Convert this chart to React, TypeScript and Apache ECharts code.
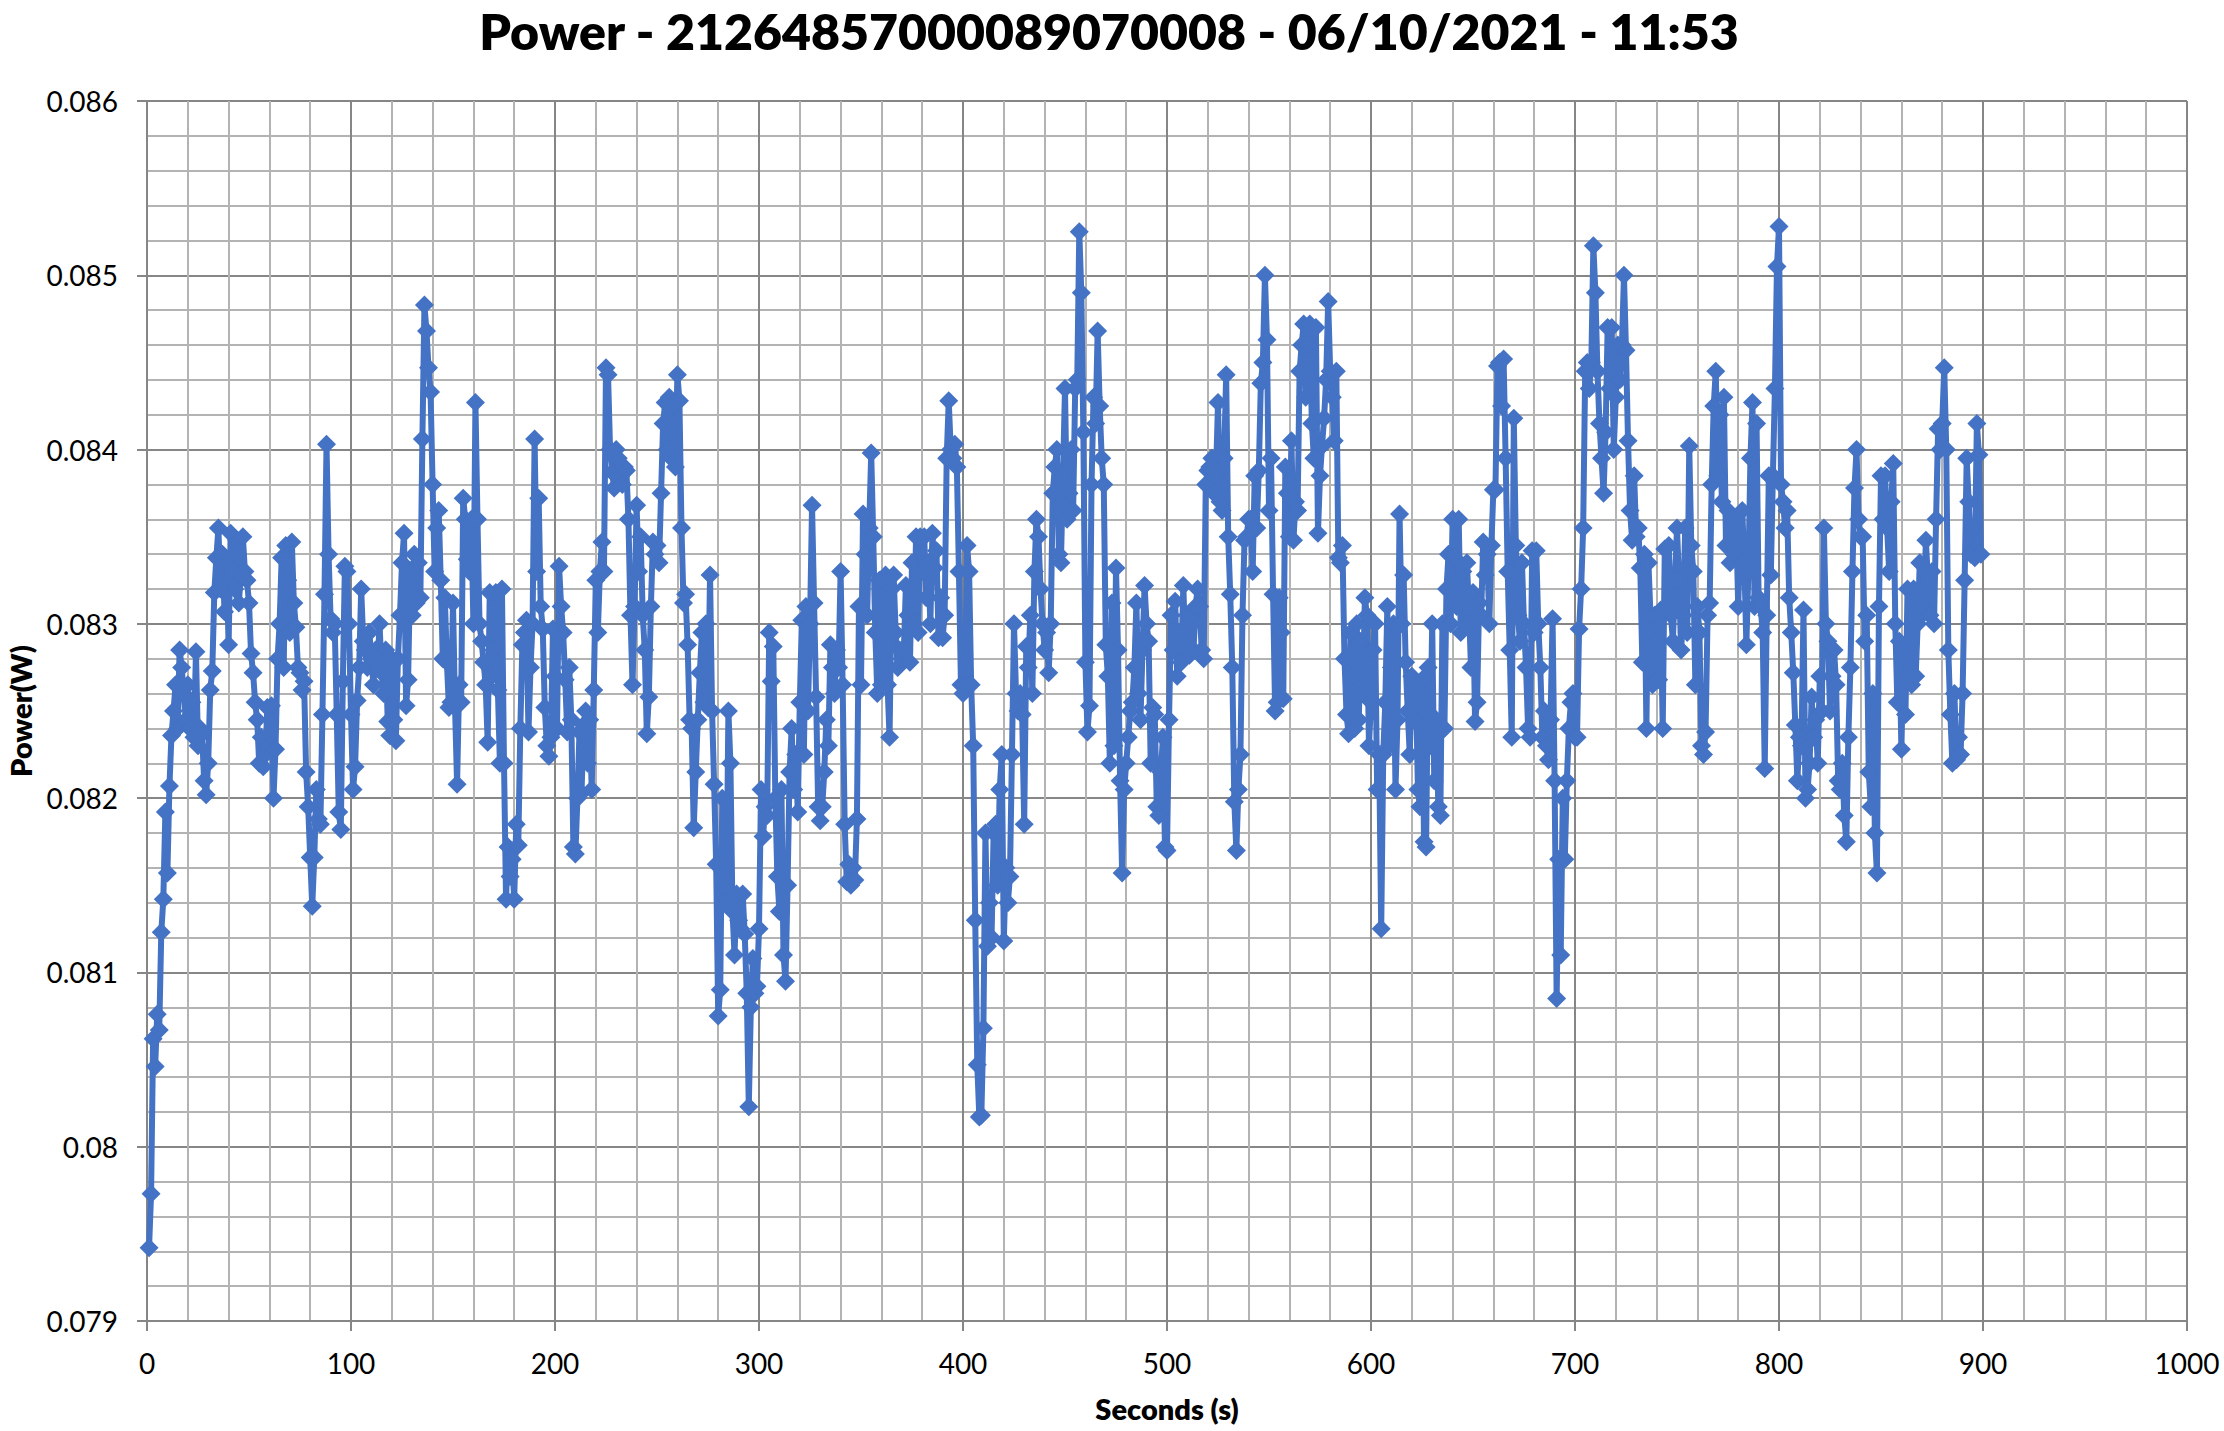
import React, { useEffect, useRef } from "react";
import * as echarts from "echarts";

const titleText = "Power - 21264857000089070008 - 06/10/2021 - 11:53";
const xAxisName = "Seconds (s)";
const yAxisName = "Power(W)";
const seriesName = "Power";

// Readings in milliwatts, one per second starting at t = 1 s.
const powerMilliwatts = [
79.42,79.73,80.62,80.46,80.76,80.67,81.23,81.42,81.92,81.57,
82.07,82.36,82.5,82.65,82.4,82.85,82.75,82.6,82.45,82.65,
82.4,82.55,82.35,82.84,82.3,82.4,82.37,82.1,82.02,82.2,
82.62,82.73,83.18,83.38,83.55,83.2,83.4,83.07,83.35,82.88,
83.52,83.3,83.2,83.48,83.12,83.28,83.5,83.3,83.25,83.12,
82.83,82.72,82.55,82.45,82.2,82.35,82.18,82.25,82.52,82.3,
82.53,82,82.28,82.8,83,83.38,82.75,83.45,83.25,82.95,
83.47,83.12,82.98,82.75,82.72,82.62,82.67,82.15,81.95,81.66,
81.38,81.66,82.05,81.88,81.85,82.48,83.17,84.03,83.4,83.03,
82.95,83,82.48,81.92,81.82,82.67,83.33,83.3,83,82.48,
82.05,82.18,82.56,82.75,83.2,82.9,82.85,82.75,82.95,82.8,
82.65,82.85,82.75,83,82.72,82.6,82.85,82.44,82.36,82.8,
82.45,82.33,82.8,83.05,83.35,83.52,82.53,82.68,83.3,83.05,
83.4,83.12,83.35,83.15,84.06,84.83,84.68,84.47,84.33,83.8,
83.3,83.55,83.65,83.25,82.8,83.15,82.78,82.52,82.55,83.12,
82.52,82.08,82.65,82.55,83.72,83.6,83.37,83.3,83.6,83,
84.27,83.6,83,82.9,82.78,82.65,82.32,83.18,82.7,82.85,
83.18,82.62,82.2,83.2,82.2,81.42,81.72,81.55,81.65,81.42,
81.85,81.73,82.4,82.88,82.95,83.02,82.38,82.75,83,84.06,
83.3,83.72,83.1,82.97,82.52,82.3,82.24,82.35,82.97,82.7,
82.4,83.33,83.1,82.95,82.68,82.38,82.75,82.45,81.72,81.68,
82,82.38,82.03,82.42,82.5,82.2,82.45,82.05,82.62,83.25,
82.95,83.3,83.47,83.3,84.47,84.43,84,83.87,83.78,84,
83.95,83.85,83.8,83.9,83.88,83.6,83.05,82.65,83.1,83.68,
83.3,83.5,83.05,82.85,82.37,82.58,83.1,83.47,83.4,83.45,
83.35,83.75,84.15,84.27,84,84.3,83.95,84.25,83.9,84.43,
84.28,83.55,83.12,83.17,82.88,82.45,82.4,81.83,82.15,82.45,
82.72,82.95,82.55,83,82.52,83.28,82.5,82.08,81.62,80.75,
80.9,82,81.5,81.4,82.5,82.2,81.35,81.1,81.45,81.3,
81.25,81.45,81.22,80.88,80.23,80.8,81.08,80.88,80.92,81.25,
82.05,81.78,81.95,81.9,82.95,82.67,82.87,82,81.55,81.35,
82.05,81.1,80.95,81.5,82.15,82.4,82.05,82.25,81.92,82.55,
83.02,82.25,83.1,82.5,83,83.68,83.12,82.58,81.95,81.87,
81.95,82.15,82.45,82.3,82.88,82.75,82.6,82.85,82.75,83.3,
82.65,81.85,81.52,81.62,81.5,81.6,81.53,81.88,83.1,82.65,
83.63,83.4,83.05,83.55,83.98,83.5,82.95,82.6,83.25,82.65,
83.25,83.28,82.65,82.35,83.2,83.28,82.95,82.75,82.85,82.8,
82.85,83.22,83.05,82.78,83.35,83,83.5,82.95,83.5,83.3,
83.5,83.15,83.35,83,83.52,83.32,83.42,82.92,83.15,82.92,
83.05,83.95,84.28,84,83.95,84.03,83.9,83.3,82.65,82.6,
82.65,83.45,83.3,82.65,82.3,81.3,80.47,80.17,80.18,80.68,
81.8,81.15,81.4,81.2,81.8,81.85,81.5,82.05,82.25,81.18,
81.6,81.4,81.55,82.25,83,82.6,82.5,82.6,82.48,81.85,
82.87,82.75,83.05,82.6,83.3,83.6,83.5,83.2,83,82.85,
82.95,82.72,83,83.75,83.9,84,83.4,83.35,83.85,84.35,
83.6,83.75,84,83.65,84.35,84.4,85.25,84.9,84.1,82.78,
82.38,82.53,83.8,84.3,84.15,84.68,84.25,83.95,83.8,82.88,
82.7,82.2,83.12,82.3,83.32,82.85,82.1,81.57,82.05,82.2,
82.35,82.5,82.55,82.75,83.12,82.6,82.45,82.85,83.22,83,
82.9,82.2,82.52,82.48,81.95,81.9,82.15,82.35,81.72,81.7,
82.45,83.05,82.85,83.13,82.7,82.95,82.78,83.22,82.85,83.05,
82.82,83.05,82.85,83.1,83.2,83.1,82.85,82.8,83.8,83.88,
83.9,83.95,83.75,83.85,84.27,83.7,83.65,83.95,84.43,83.5,
83.17,82.75,81.98,81.7,82.05,82.25,83.05,83.48,83.5,83.6,
83.6,83.3,83.85,83.55,83.88,84.38,84.5,85,84.63,83.65,
83.95,83.17,82.5,82.55,83.15,82.95,82.57,83.9,83.75,83.5,
84.05,83.48,83.7,83.65,84.45,84.6,84.72,84.3,84.6,84.72,
84.15,83.95,84.7,83.52,83.85,84.02,84.18,84.4,84.85,84.45,
84.3,84.05,84.45,83.38,83.35,83.45,82.8,82.48,82.37,82.95,
82.7,82.4,83,82.45,82.9,82.6,83.15,83.05,82.3,82.55,
82.85,83,82.05,82.25,81.25,82.25,82.55,83.1,82.3,82.75,
83,82.05,82.45,83.63,83,83.28,82.78,82.5,82.25,82.7,
82.45,82.65,82.05,81.95,82.68,81.75,81.72,82.75,82.3,83,
82.1,82.45,81.95,81.9,83,82.4,83.2,83.4,83,83.6,
83.38,83.1,83.6,82.95,83.3,83,83.35,83.1,82.75,83.18,
82.44,82.55,83.12,83.05,83.47,83.28,83.4,83,83.45,83.77,
83.77,84.48,84.5,84.25,84.52,83.95,83.3,82.85,82.35,84.18,
83.45,83.05,82.9,83.35,83,82.75,82.4,82.35,83.42,82.95,
83.42,83,82.75,82.35,82.5,82.3,82.22,82.45,83.03,82.1,
80.85,81.65,81.1,82,81.65,82.1,82.4,82.55,82.6,82.35,
82.35,82.97,83.2,83.55,84.45,84.5,84.35,84.5,85.17,84.9,
84.45,84.15,83.95,83.75,84.1,84.7,84.35,84.7,84,84.3,
84.6,84.4,84.6,85,84.57,84.05,83.65,83.48,83.85,83.5,
83.55,83.32,82.78,83.4,82.4,83.35,83.05,82.65,83.05,82.9,
82.68,83.08,82.4,83.43,83.1,83.45,83.05,82.9,83.25,83.55,
83.25,82.85,83.05,83.55,82.95,84.02,83.45,83.3,82.65,83.1,
82.95,82.3,82.25,82.38,83.05,83.12,83.8,84.25,84.45,83.85,
84.2,83.7,84.3,83.45,83.65,83.35,83.6,83.4,83.6,83.1,
83.5,83.65,83.35,82.88,83.3,83.95,84.27,83.1,84.15,83.15,
83.1,82.95,82.17,83.05,83.85,83.28,83.85,84.35,85.05,85.28,
83.8,83.7,83.55,83.65,83.15,82.95,82.72,82.42,82.1,82.35,
82.3,83.08,82,82.05,82.2,82.58,82.35,82.45,82.2,82.7,
82.5,83.55,83,82.9,82.5,82.7,82.85,82.65,82.1,82.05,
82.2,81.9,81.75,82.35,82.75,83.3,83.78,84,83.6,83.5,
83.5,82.9,83.05,82.15,81.95,82.6,81.8,81.57,83.1,83.85,
83.6,83.85,83.55,83.3,83.7,83.92,83,82.55,82.9,82.28,
82.85,82.48,83.2,82.75,82.65,83.2,82.7,83,83.35,83.05,
83.1,83.48,83.25,83.05,83.3,83,83.6,84.12,84,84.15,
84.47,84,82.85,82.48,82.2,82.6,82.22,82.35,82.25,82.6,
83.25,83.95,83.7,83.4,83.55,83.38,84.15,83.97,83.4,
];

const points = powerMilliwatts.map((mw, i) => [i + 1, mw / 1000]);

const FONT = "Lato, Carlito, sans-serif";

export default function App() {
  const ref = useRef<HTMLDivElement>(null);
  useEffect(() => {
    const chart = echarts.init(ref.current!, undefined, { renderer: "svg" });
    chart.setOption({
      animation: false,
      backgroundColor: "#ffffff",
      title: {
        text: titleText,
        left: 1104,
        top: 1,
        textAlign: "center",
        textStyle: { fontFamily: FONT, fontWeight: 800, fontSize: 50, color: "#000" },
      },
      grid: { left: 147, top: 101, width: 2040, height: 1220, containLabel: false, outerBoundsMode: "none" },
      xAxis: {
        type: "value",
        min: 0,
        max: 1000,
        interval: 100,
        name: xAxisName,
        nameLocation: "middle",
        nameGap: 73,
        nameTextStyle: { fontFamily: FONT, fontWeight: 800, fontSize: 29, color: "#000" },
        axisLine: { show: true, onZero: false, lineStyle: { color: "#868686", width: 2 } },
        axisTick: { show: true, length: 10, lineStyle: { color: "#868686", width: 2 } },
        axisLabel: {
          fontFamily: FONT,
          fontSize: 28,
          color: "#000",
          margin: 28,
          formatter: (v: number) => String(v),
        },
        splitLine: { show: true, lineStyle: { color: "#868686", width: 2 } },
        minorTick: { show: false, splitNumber: 5 },
        minorSplitLine: { show: true, lineStyle: { color: "#b3b3b3", width: 2 } },
      },
      yAxis: {
        type: "value",
        min: 0.079,
        max: 0.086,
        interval: 0.001,
        name: yAxisName,
        nameLocation: "middle",
        nameGap: 112,
        nameTextStyle: { fontFamily: FONT, fontWeight: 800, fontSize: 29, color: "#000" },
        axisLine: { show: true, onZero: false, lineStyle: { color: "#868686", width: 2 } },
        axisTick: { show: true, length: 10, lineStyle: { color: "#868686", width: 2 } },
        axisLabel: {
          fontFamily: FONT,
          fontSize: 28,
          color: "#000",
          margin: 29,
          formatter: (v: number) => String(+v.toFixed(3)),
        },
        splitLine: { show: true, lineStyle: { color: "#868686", width: 2 } },
        minorTick: { show: false, splitNumber: 5 },
        minorSplitLine: { show: true, lineStyle: { color: "#b3b3b3", width: 2 } },
      },
      series: [
        {
          name: seriesName,
          type: "line",
          data: points,
          symbol: "diamond",
          symbolSize: 19,
          showAllSymbol: true,
          lineStyle: { color: "#4472C4", width: 6 },
          itemStyle: { color: "#4472C4" },
          clip: false,
        },
      ],
    });
    return () => chart.dispose();
  }, []);
  return (
    <div
      ref={ref}
      style={{ position: "absolute", left: 0, top: 0, width: 2224, height: 1431 }}
    />
  );
}
